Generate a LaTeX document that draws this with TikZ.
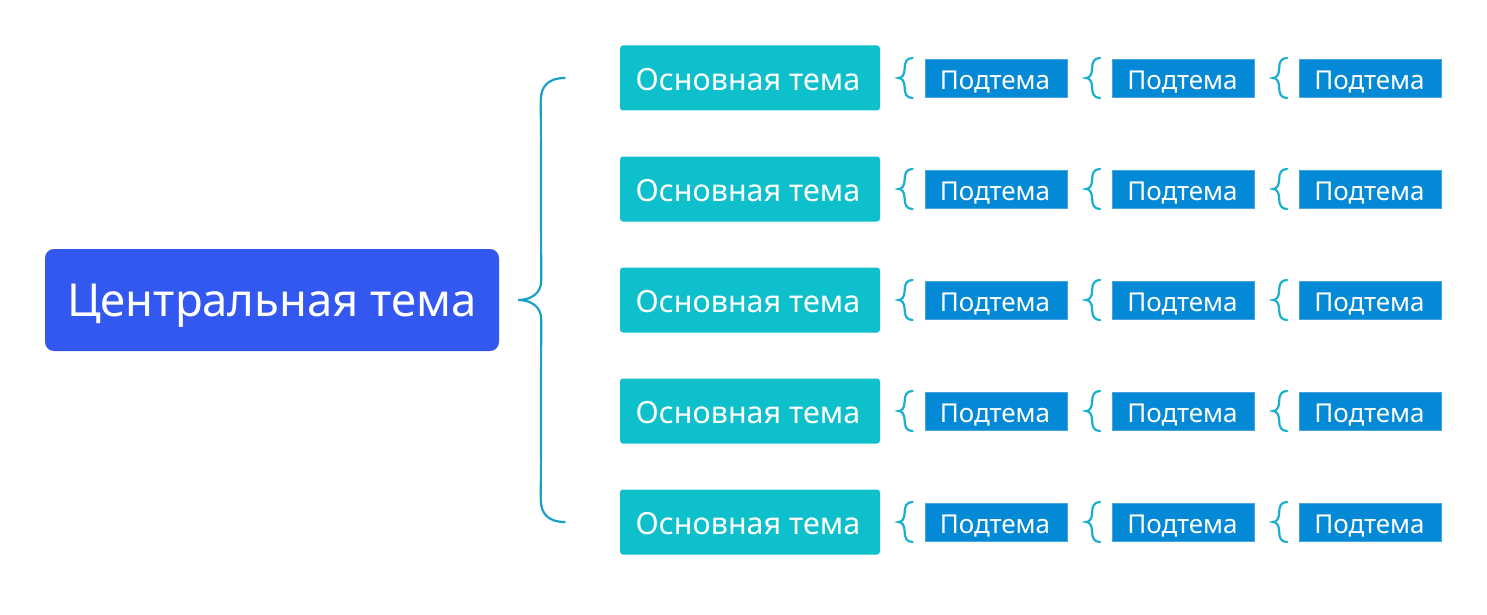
\documentclass[tikz,border=0pt]{standalone}
\usepackage{fontspec}
\setmainfont{Noto Sans}
\begin{document}
\begin{tikzpicture}[x=1pt,y=-1pt,
  central/.style={fill=centralblue,rounded corners=9pt,minimum width=454pt,minimum height=102pt,inner sep=0pt,text=white,font=\fontsize{45.5}{52}\selectfont,text height=32.5pt,text depth=0pt},
  maintopic/.style={fill=maincyan,rounded corners=3pt,minimum width=260pt,minimum height=65pt,inner sep=0pt,text=white,font=\fontsize{30.5}{36}\selectfont,text height=21.8pt,text depth=0pt},
  subtopic/.style={fill=subblue,draw=subborder,line width=0.8pt,minimum width=142pt,minimum height=38pt,inner sep=0pt,text=white,font=\fontsize{26}{30}\selectfont,text height=18.6pt,text depth=0pt},
  bigbrace/.style={draw=bracecol,line width=2.2pt,line cap=round},
  smallbrace/.style={draw=smallbracecol,line width=2.2pt,line cap=round}]
\definecolor{centralblue}{RGB}{51,88,240}
\definecolor{maincyan}{RGB}{13,192,203}
\definecolor{subblue}{RGB}{4,137,214}
\definecolor{subborder}{RGB}{70,165,225}
\definecolor{bracecol}{RGB}{26,160,200}
\definecolor{smallbracecol}{RGB}{24,176,204}
\useasboundingbox[fill=white] (0,0) rectangle (1487,615);

\node[central] (c) at (272,300) {Центральная тема};

\foreach \r/\y in {1/78,2/189,3/300,4/411,5/522}{
  \node[maintopic] (m\r) at (750,\y) {\hspace*{-4pt}\raisebox{-1.5pt}{Основная тема}};
  \foreach \s/\x in {1/996,2/1183.5,3/1370.5}{
    \node[subtopic] (s\r\s) at (\x,\y) {\hspace*{-2pt}\raisebox{-2pt}{Подтема}};
    \coordinate (t\r\s) at ([xshift=-26pt]s\r\s.west);
    \path[smallbrace] ([xshift=14pt,yshift=-20pt]t\r\s)
      .. controls ([xshift=8pt,yshift=-20pt]t\r\s) and ([xshift=6pt,yshift=-16pt]t\r\s) .. ([xshift=6pt,yshift=-9pt]t\r\s)
      .. controls ([xshift=6pt,yshift=-3pt]t\r\s) and ([xshift=3pt,yshift=0pt]t\r\s) .. (t\r\s)
      .. controls ([xshift=3pt,yshift=0pt]t\r\s) and ([xshift=6pt,yshift=3pt]t\r\s) .. ([xshift=6pt,yshift=9pt]t\r\s)
      .. controls ([xshift=6pt,yshift=16pt]t\r\s) and ([xshift=8pt,yshift=20pt]t\r\s) .. ([xshift=14pt,yshift=20pt]t\r\s);
  }
}

\coordinate (tip) at ([xshift=19pt]c.east);
\coordinate (btop) at ([xshift=-55pt]m1.west);
\coordinate (bbot) at ([xshift=-55pt]m5.west);
\path[bigbrace] (btop) .. controls ([xshift=-16pt]btop) and ([xshift=-24pt,yshift=-8pt]btop) .. ([xshift=-24pt,yshift=-22pt]btop)
  -- ([xshift=23pt,yshift=19pt]tip)
  .. controls ([xshift=23pt,yshift=7pt]tip) and ([xshift=13pt]tip) .. (tip)
  .. controls ([xshift=13pt]tip) and ([xshift=23pt,yshift=-7pt]tip) .. ([xshift=23pt,yshift=-19pt]tip)
  -- ([xshift=-24pt,yshift=22pt]bbot)
  .. controls ([xshift=-24pt,yshift=8pt]bbot) and ([xshift=-16pt]bbot) .. (bbot);
\end{tikzpicture}
\end{document}
